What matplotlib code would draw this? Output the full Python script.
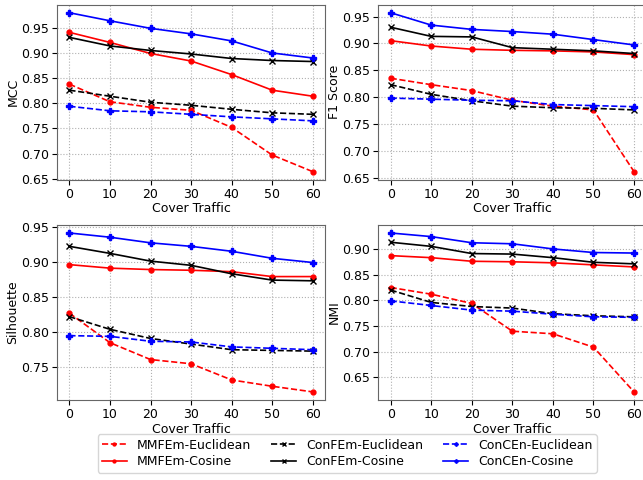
import matplotlib
matplotlib.use('Agg')
import matplotlib.pyplot as plt
import numpy as np

cover = [0, 10, 20, 30, 40, 50, 60]

# MCC
mcc_mmfem_euc = [0.838, 0.803, 0.792, 0.786, 0.752, 0.697, 0.664]
mcc_mmfem_cos = [0.941, 0.921, 0.899, 0.884, 0.857, 0.826, 0.814]
mcc_confem_euc = [0.826, 0.814, 0.802, 0.796, 0.788, 0.781, 0.778]
mcc_confem_cos = [0.931, 0.914, 0.905, 0.898, 0.889, 0.885, 0.883]
mcc_concen_euc = [0.794, 0.785, 0.783, 0.778, 0.773, 0.769, 0.765]
mcc_concen_cos = [0.980, 0.964, 0.949, 0.938, 0.924, 0.900, 0.890]

# F1 Score
f1_mmfem_euc = [0.835, 0.823, 0.812, 0.794, 0.783, 0.776, 0.661]
f1_mmfem_cos = [0.905, 0.895, 0.889, 0.887, 0.886, 0.884, 0.879]
f1_confem_euc = [0.823, 0.805, 0.793, 0.783, 0.780, 0.779, 0.776]
f1_confem_cos = [0.930, 0.913, 0.912, 0.892, 0.889, 0.886, 0.881]
f1_concen_euc = [0.798, 0.796, 0.794, 0.793, 0.786, 0.784, 0.782]
f1_concen_cos = [0.957, 0.934, 0.926, 0.922, 0.917, 0.907, 0.897]

# Silhouette
sil_mmfem_euc = [0.827, 0.785, 0.761, 0.755, 0.732, 0.723, 0.715]
sil_mmfem_cos = [0.896, 0.891, 0.889, 0.888, 0.886, 0.879, 0.879]
sil_confem_euc = [0.822, 0.804, 0.791, 0.783, 0.775, 0.774, 0.773]
sil_confem_cos = [0.922, 0.912, 0.901, 0.895, 0.883, 0.874, 0.873]
sil_concen_euc = [0.795, 0.794, 0.787, 0.786, 0.779, 0.777, 0.775]
sil_concen_cos = [0.941, 0.935, 0.927, 0.922, 0.915, 0.905, 0.899]

# NMI
nmi_mmfem_euc = [0.825, 0.812, 0.794, 0.740, 0.735, 0.709, 0.622]
nmi_mmfem_cos = [0.887, 0.883, 0.876, 0.875, 0.873, 0.869, 0.865]
nmi_confem_euc = [0.820, 0.796, 0.788, 0.785, 0.774, 0.770, 0.768]
nmi_confem_cos = [0.913, 0.905, 0.891, 0.890, 0.883, 0.874, 0.871]
nmi_concen_euc = [0.799, 0.790, 0.781, 0.779, 0.773, 0.768, 0.767]
nmi_concen_cos = [0.931, 0.924, 0.912, 0.910, 0.900, 0.893, 0.892]

labels = ['MMFEm-Euclidean', 'MMFEm-Cosine', 'ConFEm-Euclidean',
          'ConFEm-Cosine', 'ConCEn-Euclidean', 'ConCEn-Cosine']
styles = [('r', '--', 'o'), ('r', '-', 'o'), ('k', '--', 'x'),
          ('k', '-', 'x'), ('b', '--', 'P'), ('b', '-', 'P')]

panels = [
    ('MCC', [mcc_mmfem_euc, mcc_mmfem_cos, mcc_confem_euc, mcc_confem_cos, mcc_concen_euc, mcc_concen_cos]),
    ('F1 Score', [f1_mmfem_euc, f1_mmfem_cos, f1_confem_euc, f1_confem_cos, f1_concen_euc, f1_concen_cos]),
    ('Silhouette', [sil_mmfem_euc, sil_mmfem_cos, sil_confem_euc, sil_confem_cos, sil_concen_euc, sil_concen_cos]),
    ('NMI', [nmi_mmfem_euc, nmi_mmfem_cos, nmi_confem_euc, nmi_confem_cos, nmi_concen_euc, nmi_concen_cos]),
]

plt.rc('font', size=9)
fig, axs = plt.subplots(2, 2, figsize=(6.43, 4.8), dpi=100)
fig.subplots_adjust(left=0.089, right=1.005, top=0.99, bottom=0.167, wspace=0.2, hspace=0.26)

for ax, (ylab, series) in zip(axs.flat, panels):
    for vals, lab, (c, ls, m) in zip(series, labels, styles):
        ms = 3.5 if m == 'o' else 4
        ax.plot(cover, vals, color=c, linestyle=ls, marker=m, markersize=ms,
                linewidth=1.2, label=lab)
    ax.set_xlabel('Cover Traffic', labelpad=1)
    ax.set_ylabel(ylab, labelpad=1)
    ax.set_xticks(cover)
    ax.yaxis.set_major_locator(matplotlib.ticker.MultipleLocator(0.05))
    ax.yaxis.set_major_formatter(matplotlib.ticker.FormatStrFormatter('%.2f'))
    ax.tick_params(pad=2.5)
    ax.grid(True, linestyle=':', color='#b0b0b0', linewidth=0.8)
    for s in ax.spines.values():
        s.set_color('#666666')

handles, labs = axs[0, 0].get_legend_handles_labels()
fig.legend(handles, labs, loc='lower center', ncol=3, bbox_to_anchor=(0.54, 0.002),
           fontsize=9, handlelength=2, columnspacing=1.6, labelspacing=0.3,
           borderpad=0.35, markerscale=0.6)

plt.savefig('out.png', dpi=100)
